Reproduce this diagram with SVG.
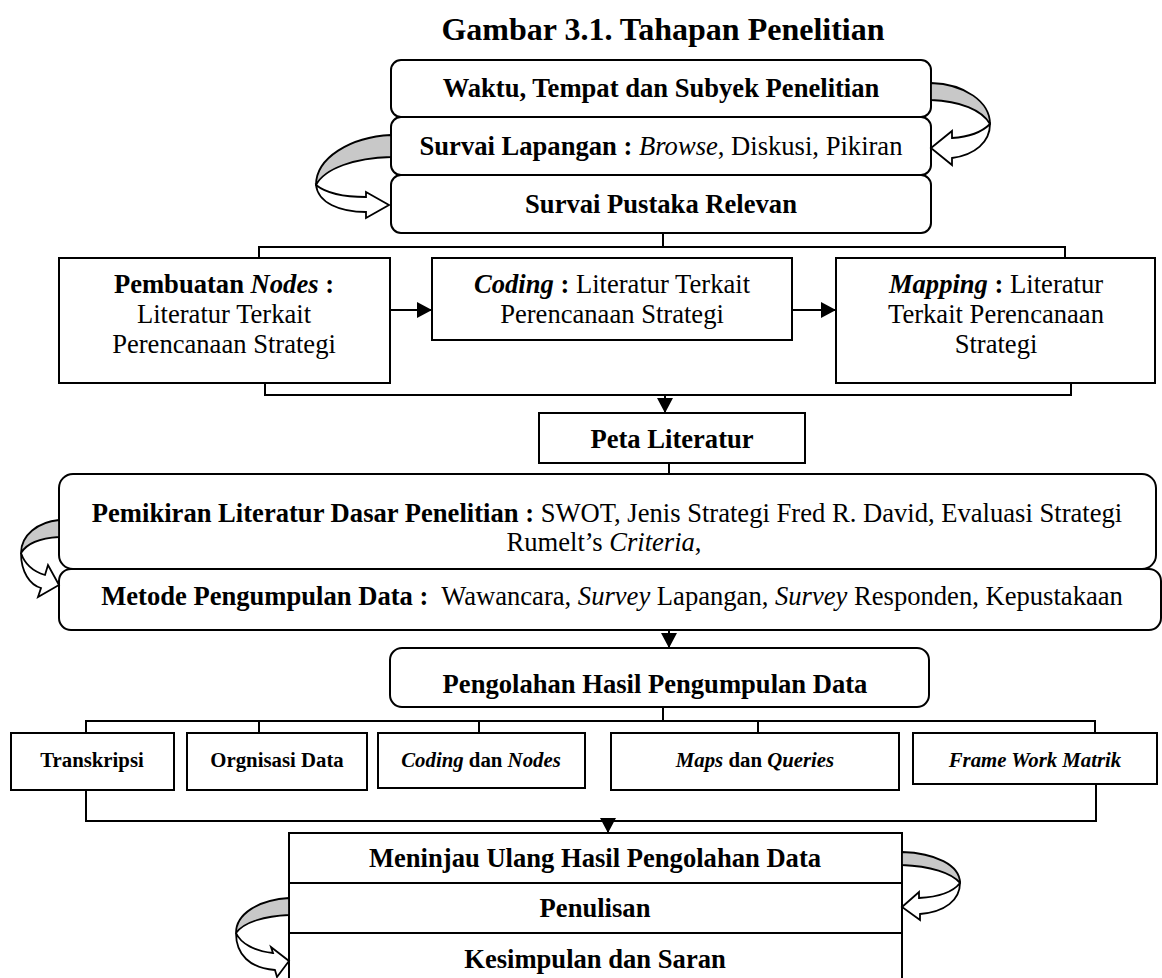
<svg xmlns="http://www.w3.org/2000/svg" width="1162" height="978" viewBox="0 0 1162 978">
<style>
text{font-family:"Liberation Serif","Times New Roman",serif;fill:#000}
.t{font-size:26.6px;text-anchor:middle}
.s{font-size:20.8px;text-anchor:middle;font-weight:bold}
.b{font-weight:bold}
.i{font-style:italic}
.box{fill:#fff;stroke:#000;stroke-width:2}
.ln{fill:none;stroke:#000;stroke-width:2}
.arr{fill:none;stroke:#000;stroke-width:2;marker-end:url(#ah)}
.back{fill:#c8c8c8;stroke:#000;stroke-width:1.8;stroke-linejoin:round}
.front{fill:#fff;stroke:#000;stroke-width:1.8;stroke-linejoin:miter}
</style>
<defs>
<marker id="ah" markerUnits="userSpaceOnUse" markerWidth="16" markerHeight="16" refX="15" refY="8" orient="auto"><path d="M0,0 L15,8 L0,16 Z" fill="#000"/></marker>
</defs>
<rect width="1162" height="978" fill="#fff"/>
<text x="663" y="40" class="b" font-size="32" text-anchor="middle">Gambar 3.1. Tahapan Penelitian</text>

<g id="connectors">
<path class="ln" d="M663,233 V247 M259,258 V247 H1065 V258"/>
<path class="arr" d="M390,310 H432"/>
<path class="arr" d="M792,310 H836"/>
<path class="ln" d="M265,383 V395 H1071 V383"/>
<path class="arr" d="M665,395 V413"/>
<path class="ln" d="M669,463 V474"/>
<path class="arr" d="M669,630 V648"/>
<path class="ln" d="M663,707 V721 M86,733 V721 H1095 V733 M259,721 V733 M479,721 V733 M758,721 V733"/>
<path class="ln" d="M86,790 V821 H1096 V784"/>
<path class="arr" d="M608,821 V833"/>
</g>

<g id="n-waktu"><rect class="box" x="391" y="60" width="540" height="57" rx="10"/>
<text class="t b" x="661" y="97">Waktu, Tempat dan Subyek Penelitian</text></g>
<g id="n-survai-lapangan"><rect class="box" x="391" y="117" width="540" height="58" rx="10"/>
<text class="t" x="661" y="155"><tspan class="b">Survai Lapangan : </tspan><tspan class="i">Browse</tspan>, Diskusi, Pikiran</text></g>
<g id="n-survai-pustaka"><rect class="box" x="391" y="175" width="540" height="58" rx="10"/>
<text class="t b" x="661" y="213">Survai Pustaka Relevan</text></g>

<g id="n-pembuatan"><rect class="box" x="59" y="258" width="331" height="125"/>
<text class="t" x="224" y="293"><tspan class="b">Pembuatan </tspan><tspan class="b i">Nodes</tspan><tspan class="b"> :</tspan></text>
<text class="t" x="224" y="323">Literatur Terkait</text>
<text class="t" x="224" y="353">Perencanaan Strategi</text></g>
<g id="n-coding"><rect class="box" x="432" y="258" width="360" height="82"/>
<text class="t" x="612" y="293"><tspan class="b i">Coding</tspan><tspan class="b"> :</tspan> Literatur Terkait</text>
<text class="t" x="612" y="323">Perencanaan Strategi</text></g>
<g id="n-mapping"><rect class="box" x="836" y="258" width="319" height="125"/>
<text class="t" x="996" y="293"><tspan class="b i">Mapping</tspan><tspan class="b"> :</tspan> Literatur</text>
<text class="t" x="996" y="323">Terkait Perencanaan</text>
<text class="t" x="996" y="353">Strategi</text></g>

<g id="n-peta"><rect class="box" x="539" y="413" width="266" height="50"/>
<text class="t b" x="672" y="448">Peta Literatur</text></g>

<g id="n-pemikiran"><rect class="box" x="59" y="474" width="1097" height="95" rx="14"/>
<text class="t" x="607" y="522"><tspan class="b">Pemikiran Literatur Dasar Penelitian :</tspan> SWOT, Jenis Strategi Fred R. David, Evaluasi Strategi</text>
<text class="t" x="604" y="551">Rumelt’s <tspan class="i">Criteria</tspan>,</text></g>
<g id="n-metode"><rect class="box" x="59" y="569" width="1102" height="61" rx="12"/>
<text class="t" x="612" y="605" xml:space="preserve"><tspan class="b">Metode Pengumpulan Data :</tspan>  Wawancara, <tspan class="i">Survey</tspan> Lapangan, <tspan class="i">Survey</tspan> Responden, Kepustakaan</text></g>

<g id="n-pengolahan"><rect class="box" x="390" y="648" width="539" height="59" rx="12"/>
<text class="t b" x="655" y="693">Pengolahan Hasil Pengumpulan Data</text></g>

<g id="n-transkripsi"><rect class="box" x="11" y="733" width="163" height="57"/>
<text class="s" x="92" y="767">Transkripsi</text></g>
<g id="n-orgnisasi"><rect class="box" x="187" y="733" width="180" height="57"/>
<text class="s" x="277" y="767">Orgnisasi Data</text></g>
<g id="n-coding-nodes"><rect class="box" x="378" y="733" width="207" height="55"/>
<text class="s" x="481" y="767"><tspan class="i">Coding</tspan> dan <tspan class="i">Nodes</tspan></text></g>
<g id="n-maps"><rect class="box" x="611" y="733" width="288" height="57"/>
<text class="s" x="755" y="767"><tspan class="i">Maps</tspan> dan <tspan class="i">Queries</tspan></text></g>
<g id="n-frame"><rect class="box" x="913" y="733" width="244" height="51"/>
<text class="s i" x="1035" y="767">Frame Work Matrik</text></g>

<g id="n-meninjau"><rect class="box" x="289" y="833" width="613" height="50"/>
<text class="t b" x="595" y="867">Meninjau Ulang Hasil Pengolahan Data</text></g>
<g id="n-penulisan"><rect class="box" x="289" y="883" width="613" height="50"/>
<text class="t b" x="595" y="917">Penulisan</text></g>
<g id="n-kesimpulan"><rect class="box" x="289" y="933" width="613" height="60"/>
<text class="t b" x="595" y="968">Kesimpulan dan Saran</text></g>

<g id="curved-arrows">
<path class="back" d="M931,83 C965,84 990,102 990,124 C982,110 960,101 931,100 Z"/>
<path class="front" d="M990,124 C990,142 975,155 952,158 L952,165 L931,148 L952,131 L952,138 C968,137 982,132 990,124 Z"/>
<path class="back" d="M391,135 C350,137 316,158 316,185 C325,168 355,158 391,157 Z"/>
<path class="front" d="M316,185 C318,203 340,212 366,212 L366,218 L389,205 L366,192 L366,197 C345,197 326,193 316,185 Z"/>
<path class="back" d="M59,520 C38,522 21,535 21,553 C27,543 42,538 59,537 Z"/>
<path class="front" d="M21,553 C21,572 30,585 41,588 L38,597 L59,585 L48,565 L45,575 C35,572 25,565 21,553 Z"/>
<path class="back" d="M902,852 C935,853 960,865 960,883 C952,873 930,866 902,865 Z"/>
<path class="front" d="M960,883 C960,900 945,912 920,914 L920,920 L902,907 L919,892 L919,898 C938,897 953,892 960,883 Z"/>
<path class="back" d="M289,898 C258,900 236,914 236,933 C244,922 265,916 289,915 Z"/>
<path class="front" d="M236,933 C236,955 250,968 275,970 L277,977 L289,961 L271,947 L273,953 C255,951 241,944 236,933 Z"/>
</g>
</svg>
